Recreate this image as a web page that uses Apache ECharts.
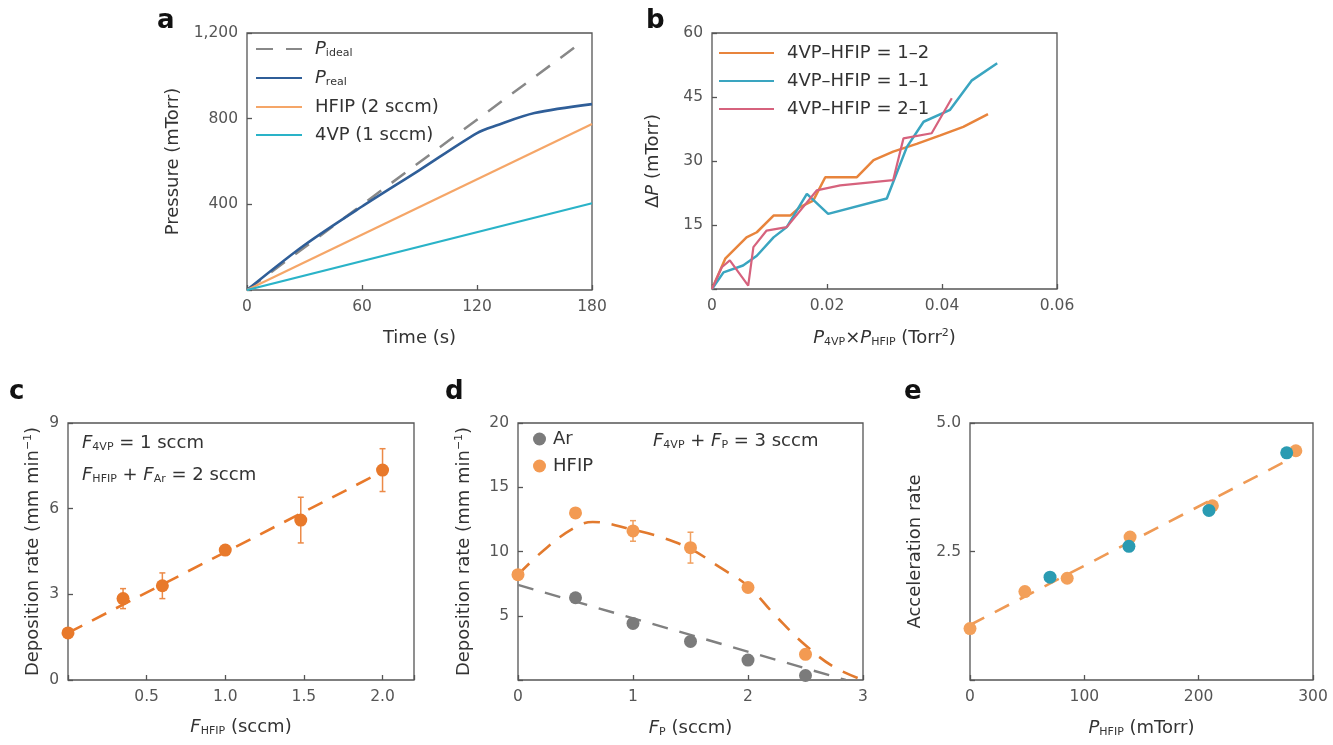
<!DOCTYPE html>
<html><head><meta charset="utf-8">
<script src="https://cdn.jsdelivr.net/npm/echarts@6/dist/echarts.min.js"></script>
<style>html,body{margin:0;padding:0;background:#fff}#chart{width:1333px;height:745px}</style>
</head><body><div id="chart"></div>
<script>
// ---- panel a : pressure vs time
const aIdealT = [0, 172];
const aIdeal = [0, 1140];
const aRealT = [0, 30, 60, 90, 120, 130, 150, 180];
const aReal = [0, 210, 390, 560, 733, 768, 826, 868];
const aGasT = [0, 180];
const aHfip = [0, 775];
const a4vp = [0, 405];
const aXTicks = [0, 60, 120, 180], aXText = ['0', '60', '120', '180'];
const aYTicks = [400, 800, 1200], aYText = ['400', '800', '1,200'];

// ---- panel b : dP vs product of partial pressures
const b12X = [0, 0.0023, 0.006, 0.0078, 0.0107, 0.0136, 0.0153, 0.0176, 0.0197, 0.0252, 0.0281, 0.0315, 0.0356, 0.0397, 0.0437, 0.048];
const b12Y = [0, 7.1, 12.1, 13.3, 17.2, 17.2, 19.2, 20.7, 26.2, 26.2, 30.2, 32.2, 34.0, 36.0, 38.0, 41.0];
const b11X = [0, 0.002, 0.0054, 0.0078, 0.0107, 0.013, 0.0165, 0.0202, 0.0304, 0.0339, 0.0368, 0.0414, 0.0452, 0.0496];
const b11Y = [0, 3.9, 5.5, 7.8, 12.1, 14.5, 22.3, 17.6, 21.2, 33.3, 39.2, 42.0, 48.9, 52.9];
const b21X = [0, 0.0017, 0.0031, 0.0063, 0.0072, 0.0095, 0.013, 0.0182, 0.0223, 0.0315, 0.0333, 0.0382, 0.0417];
const b21Y = [0, 5.1, 6.7, 0.8, 9.8, 13.7, 14.5, 23.1, 24.3, 25.5, 35.3, 36.5, 44.7];
const bXTicks = [0, 0.02, 0.04, 0.06], bXText = ['0', '0.02', '0.04', '0.06'];
const bYTicks = [15, 30, 45, 60], bYText = ['15', '30', '45', '60'];

// ---- panel c : deposition rate vs F_HFIP
const cX = [0, 0.35, 0.6, 1.0, 1.48, 2.0];
const cY = [1.65, 2.85, 3.3, 4.55, 5.6, 7.35];
const cErr = [0, 0.35, 0.45, 0.15, 0.8, 0.75];
const cFitX = [0, 2.0], cFitY = [1.65, 7.3];
const cXTicks = [0.5, 1, 1.5, 2], cXText = ['0.5', '1.0', '1.5', '2.0'];
const cYTicks = [0, 3, 6, 9], cYText = ['0', '3', '6', '9'];

// ---- panel d : deposition rate vs F_P
const dX = [0, 0.5, 1, 1.5, 2, 2.5];
const dHfip = [8.2, 13.0, 11.6, 10.3, 7.2, 2.0];
const dHfipErr = [0, 0, 0.8, 1.2, 0, 0];
const dArX = [0.5, 1, 1.5, 2, 2.5];
const dAr = [6.4, 4.4, 3.0, 1.55, 0.35];
const dHfipFitX = [0, 0.25, 0.5, 0.65, 1, 1.25, 1.5, 1.75, 2, 2.25, 2.5, 2.75, 3];
const dHfipFitY = [8.2, 10.3, 11.9, 12.3, 11.7, 11.1, 10.2, 8.8, 7.3, 4.9, 2.7, 1.0, 0];
const dArFitX = [0, 2.85], dArFitY = [7.4, 0];
const dXTicks = [0, 1, 2, 3], dXText = ['0', '1', '2', '3'];
const dYTicks = [5, 10, 15, 20], dYText = ['5', '10', '15', '20'];

// ---- panel e : acceleration rate vs P_HFIP
const eOrX = [0, 48, 85, 140, 212, 285];
const eOrY = [1.0, 1.72, 1.98, 2.78, 3.39, 4.46];
const eCyX = [70, 139, 209, 277];
const eCyY = [2.0, 2.6, 3.3, 4.42];
const eFitX = [0, 280], eFitY = [1.07, 4.3];
const eXTicks = [0, 100, 200, 300], eXText = ['0', '100', '200', '300'];
const eYTicks = [2.5, 5], eYText = ['2.5', '5.0'];

const FONT = 'DejaVu Sans';
const TXT = '#333';
const FS = 18;
const pairs = (xs, ys) => xs.map((x, i) => [x, ys[i]]);
const lbl = (ticks, text) => v => {
  const i = ticks.findIndex(t => Math.abs(t - v) < 1e-9);
  return i < 0 ? '' : text[i];
};
const rich = {
  i: { fontStyle: 'italic', fontSize: FS, color: TXT, fontFamily: FONT },
  s: { fontSize: 11, color: TXT, fontFamily: FONT, padding: [9, 0, 0, 0] },
  sup: { fontSize: 11, color: TXT, fontFamily: FONT, padding: [0, 0, 9, 0] }
};

const grids = [
  { left: 247, top: 33, width: 345, height: 257 },
  { left: 712, top: 33, width: 345, height: 256 },
  { left: 68, top: 423, width: 346, height: 257 },
  { left: 518, top: 423, width: 345, height: 257 },
  { left: 970, top: 423, width: 343, height: 257 }
].map(g => Object.assign(g, { show: true, borderColor: '#555', borderWidth: 1.3 }));

function axis(gi, min, max, interval, ticks, text, name, gap, vertical) {
  return {
    type: 'value', gridIndex: gi, min: min, max: max, interval: interval,
    axisLine: { show: false }, splitLine: { show: false },
    axisTick: { show: true, inside: true, length: 5, lineStyle: { color: '#555', width: 1.3 } },
    axisLabel: { formatter: lbl(ticks, text), color: '#555', fontSize: 15.5, fontFamily: FONT, margin: 9 },
    name: name, nameLocation: 'middle', nameGap: gap, nameRotate: vertical ? 90 : 0,
    nameTextStyle: { fontSize: FS, color: TXT, fontFamily: FONT, rich: rich }
  };
}

const depName = 'Deposition rate (mm min{sup|−1})';
const xAxes = [
  axis(0, 0, 180, 60, aXTicks, aXText, 'Time (s)', 39, false),
  axis(1, 0, 0.06, 0.02, bXTicks, bXText, '{i|P}{s|4VP}×{i|P}{s|HFIP} (Torr{sup|2})', 39, false),
  axis(2, 0, 2.2, 0.5, cXTicks, cXText, '{i|F}{s|HFIP} (sccm)', 37, false),
  axis(3, 0, 3, 1, dXTicks, dXText, '{i|F}{s|P} (sccm)', 38, false),
  axis(4, 0, 300, 100, eXTicks, eXText, '{i|P}{s|HFIP} (mTorr)', 38, false)
];
const yAxes = [
  axis(0, 0, 1200, 400, aYTicks, aYText, 'Pressure (mTorr)', 65, true),
  axis(1, 0, 60, 15, bYTicks, bYText, 'Δ{i|P} (mTorr)', 50, true),
  axis(2, 0, 9, 3, cYTicks, cYText, depName, 25, true),
  axis(3, 0, 20, 5, dYTicks, dYText, depName, 44, true),
  axis(4, 0, 5, 2.5, eYTicks, eYText, 'Acceleration rate', 46, true)
];

function line(name, gi, data, color, dash, width, smooth) {
  return {
    name: name, type: 'line', xAxisIndex: gi, yAxisIndex: gi, data: data,
    symbol: 'none', smooth: smooth || false, silent: true,
    lineStyle: { color: color, width: width || 2.5, type: dash || 'solid' },
    itemStyle: { color: color }
  };
}
function dots(name, gi, data, color, size) {
  return {
    name: name, type: 'scatter', xAxisIndex: gi, yAxisIndex: gi, data: data,
    symbolSize: size || 13, clip: false, itemStyle: { color: color, opacity: 1 }, z: 4
  };
}
function errBars(gi, xs, ys, errs, color) {
  const data = xs.map((x, i) => [x, ys[i], errs[i]]).filter(d => d[2] > 0);
  return {
    type: 'custom', xAxisIndex: gi, yAxisIndex: gi, data: data, z: 3, silent: true,
    renderItem: (params, api) => {
      const x = api.value(0), y = api.value(1), e = api.value(2);
      const top = api.coord([x, y + e]), bot = api.coord([x, y - e]);
      const st = { stroke: color, lineWidth: 1.5 };
      return { type: 'group', children: [
        { type: 'line', shape: { x1: top[0], y1: top[1], x2: bot[0], y2: bot[1] }, style: st },
        { type: 'line', shape: { x1: top[0] - 3, y1: top[1], x2: top[0] + 3, y2: top[1] }, style: st },
        { type: 'line', shape: { x1: bot[0] - 3, y1: bot[1], x2: bot[0] + 3, y2: bot[1] }, style: st }
      ] };
    }
  };
}

const ORC = '#e8792b';
const series = [
  line('Pideal', 0, pairs(aIdealT, aIdeal), '#888', [17, 13], 2.5),
  line('Preal', 0, pairs(aRealT, aReal), '#2f5e98', 'solid', 2.6, 0.3),
  line('HFIP (2 sccm)', 0, pairs(aGasT, aHfip), '#f5a668', 'solid', 2.2),
  line('4VP (1 sccm)', 0, pairs(aGasT, a4vp), '#2ab3c8', 'solid', 2.2),

  line('4VP–HFIP = 1–2', 1, pairs(b12X, b12Y), '#e8843c', 'solid', 2.5),
  line('4VP–HFIP = 1–1', 1, pairs(b11X, b11Y), '#3aa5c0', 'solid', 2.5),
  line('4VP–HFIP = 2–1', 1, pairs(b21X, b21Y), '#d6627d', 'solid', 2.2),

  line('cfit', 2, pairs(cFitX, cFitY), ORC, [16, 11], 2.6),
  errBars(2, cX, cY, cErr, '#ec8a47'),
  dots('cdata', 2, pairs(cX, cY), ORC, 13),

  line('dArFit', 3, pairs(dArFitX, dArFitY), '#808080', [16, 12], 2.4),
  line('dHfipFit', 3, pairs(dHfipFitX, dHfipFitY), '#e27a2e', [16, 12], 2.6, 0.4),
  errBars(3, dX, dHfip, dHfipErr, '#f0a060'),
  dots('Ar', 3, pairs(dArX, dAr), '#7b7b7b', 13),
  dots('HFIP', 3, pairs(dX, dHfip), '#f39a52', 13),

  line('eFit', 4, pairs(eFitX, eFitY), '#ef9a55', [16, 12], 2.6),
  dots('eOr', 4, pairs(eOrX, eOrY), '#f3a05a', 13),
  dots('eCy', 4, pairs(eCyX, eCyY), '#2a9bb2', 13)
];

const legendNames = {
  'Pideal': '{i|P}{s|ideal}', 'Preal': '{i|P}{s|real}'
};
const legText = { fontSize: FS, color: TXT, fontFamily: FONT, rich: rich, padding: [0, 0, 0, 8] };
const legends = [
  { data: ['Pideal', 'Preal', 'HFIP (2 sccm)', '4VP (1 sccm)'], left: 250, top: 35, orient: 'vertical',
    itemWidth: 46, itemHeight: 14, itemGap: 10, textStyle: legText, selectedMode: false,
    itemStyle: { opacity: 0 }, formatter: n => legendNames[n] || n },
  { data: ['4VP–HFIP = 1–2', '4VP–HFIP = 1–1', '4VP–HFIP = 2–1'], left: 713, top: 39, orient: 'vertical',
    itemWidth: 55, itemHeight: 14, itemGap: 10, textStyle: legText, selectedMode: false,
    itemStyle: { opacity: 0 } },
  { data: ['Ar', 'HFIP'], left: 528, top: 425, orient: 'vertical', icon: 'circle',
    itemWidth: 13, itemHeight: 13, itemGap: 9, textStyle: Object.assign({}, legText, { padding: [0, 0, 0, 2] }),
    selectedMode: false }
];

function txt(x, y, s, size, bold) {
  return { type: 'text', left: x, top: y, silent: true,
    style: { text: s, fontSize: size || FS, fontFamily: FONT, fontWeight: bold ? 'bold' : 'normal', fill: bold ? '#111' : TXT, rich: rich } };
}
const graphics = [
  txt(157, 8, 'a', 26, true), txt(646, 8, 'b', 26, true), txt(9, 379, 'c', 26, true),
  txt(445, 379, 'd', 26, true), txt(904, 379, 'e', 26, true),
  txt(82, 434, '{i|F}{s|4VP} = 1 sccm'),
  txt(82, 466, '{i|F}{s|HFIP} + {i|F}{s|Ar} = 2 sccm'),
  txt(653, 432, '{i|F}{s|4VP} + {i|F}{s|P} = 3 sccm')
];

const chart = echarts.init(document.getElementById('chart'), null, { renderer: 'canvas' });
chart.setOption({
  backgroundColor: '#fff',
  animation: false,
  grid: grids,
  xAxis: xAxes,
  yAxis: yAxes,
  legend: legends,
  series: series,
  graphic: graphics
});
</script></body></html>
